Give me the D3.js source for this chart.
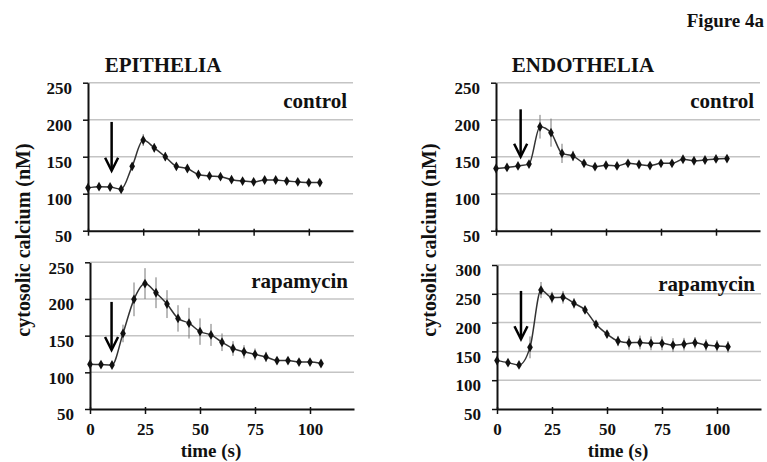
<!DOCTYPE html>
<html>
<head>
<meta charset="utf-8">
<script src="https://cdn.jsdelivr.net/npm/d3@7"></script>
<style>
  body { margin: 0; background: #fff; }
  svg text { font-family: "Liberation Serif", "Times New Roman", serif; font-weight: bold; fill: #111; }
</style>
</head>
<body>
<svg id="chart" width="767" height="462"></svg>
<script>
// time points (s)
var times = [0, 5, 10, 15, 20, 25, 30, 35, 40, 45, 50, 55, 60, 65, 70, 75, 80, 85, 90, 95, 100, 105];

// cytosolic calcium (nM), mean and error
var epiControl    = [108, 109.5, 109, 106, 137, 172.5, 162, 150, 137, 134, 126, 124, 123, 119, 117, 116, 118.5, 118.5, 117, 116, 115, 115];
var epiControlErr = [2, 2, 2, 2, 4, 8, 6, 6, 4, 4, 3, 3, 3, 3, 3, 3, 3, 3, 3, 2, 2, 2];
var epiRapa       = [111, 110.5, 110, 153, 199.5, 221, 208.5, 193, 173.5, 167, 155.5, 151, 141, 132.5, 128, 124.5, 121, 116, 116, 114, 114, 112];
var epiRapaErr    = [3, 3, 3, 12, 23, 21, 21, 19, 18, 21, 18, 15, 12, 10, 9, 8, 7, 5, 4, 3, 3, 3];
var endoControl    = [134, 135.5, 137.5, 140, 190.5, 182.5, 154.5, 151, 141, 136.5, 138.5, 137.5, 141, 139.5, 138, 141, 141, 146.5, 144.5, 145.5, 147, 147.5];
var endoControlErr = [4, 3, 3, 3, 16, 19, 13, 7, 4, 3, 3, 3, 3, 3, 3, 3, 3, 3, 3, 3, 3, 3];
var endoRapa       = [134, 130.5, 126.5, 157, 256.5, 243.5, 244, 233.5, 222, 197, 180, 168, 165, 165.5, 164, 164, 161, 162.5, 165, 161, 159.5, 158];
var endoRapaErr    = [4, 4, 4, 19, 14, 10, 11, 9, 6, 5, 6, 9, 12, 12, 12, 12, 12, 11, 10, 10, 10, 10];

// arrows (stimulus): time, top value, tip value
var arrowTime = [10.7, 9.8, 11.2, 10.9];
var arrowFrom = [197, 196, 214, 255];
var arrowTo   = [131, 130.5, 150, 171];

// tick labels
var xTicks = [0, 25, 50, 75, 100];
var yTicks250 = [50, 100, 150, 200, 250];
var yTicks300 = [50, 100, 150, 200, 250, 300];

var panelTitles = ["EPITHELIA", "ENDOTHELIA"];
var conditionLabels = ["control", "rapamycin"];

var svg = d3.select("#chart");

// panel layout
var panels = [
  { left: 88,  right: 353, top: 82.7,  bottom: 230.7, ticks: yTicks250, mean: epiControl,  err: epiControlErr,  label: 0, xlabels: false },
  { left: 90,  right: 354, top: 262.3, bottom: 409,   ticks: yTicks250, mean: epiRapa,     err: epiRapaErr,     label: 1, xlabels: true },
  { left: 496, right: 760, top: 82.7,  bottom: 230.7, ticks: yTicks250, mean: endoControl, err: endoControlErr, label: 0, xlabels: false },
  { left: 497, right: 761, top: 265,   bottom: 409,   ticks: yTicks300, mean: endoRapa,    err: endoRapaErr,    label: 1, xlabels: true }
];

panels.forEach(function(p, i) {
  var x = d3.scaleLinear().domain([0, 120]).range([p.left, p.right]);
  var y = d3.scaleLinear().domain([50, d3.max(p.ticks)]).range([p.bottom, p.top]);
  var g = svg.append("g");

  // gridlines
  g.selectAll(".grid")
    .data(p.ticks.slice(1))
    .enter().append("line")
      .attr("x1", p.left).attr("x2", p.right)
      .attr("y1", function(d) { return y(d); })
      .attr("y2", function(d) { return y(d); })
      .attr("stroke", "#c4c4c4")
      .attr("stroke-width", 1.5);

  // y axis
  var yAxis = g.append("g")
    .attr("transform", "translate(" + p.left + ",0)")
    .call(d3.axisLeft(y).tickValues(p.ticks).tickSize(5).tickSizeOuter(0).tickPadding(11));
  yAxis.select(".domain").attr("stroke", "#111").attr("stroke-width", 2);
  yAxis.selectAll(".tick line").attr("stroke", "#111").attr("stroke-width", 1.5);
  yAxis.selectAll("text").attr("font-size", 17).attr("dy", "0.75em").attr("y", -2);

  // x axis
  var xAxis = g.append("g")
    .attr("transform", "translate(0," + p.bottom + ")")
    .call(d3.axisBottom(x).tickValues(xTicks).tickSize(5).tickSizeOuter(0).tickPadding(9));
  xAxis.select(".domain").attr("stroke", "#111").attr("stroke-width", 2);
  xAxis.selectAll(".tick line").attr("stroke", "#111").attr("stroke-width", 1.5).attr("y1", -2);
  xAxis.selectAll("text").attr("font-size", 17);
  if (!p.xlabels) xAxis.selectAll("text").remove();

  // error bars
  g.selectAll(".err")
    .data(times)
    .enter().append("line")
      .attr("x1", function(d) { return x(d); })
      .attr("x2", function(d) { return x(d); })
      .attr("y1", function(d, j) { return y(p.mean[j] - p.err[j]); })
      .attr("y2", function(d, j) { return y(p.mean[j] + p.err[j]); })
      .attr("stroke", "#777")
      .attr("stroke-width", 1);

  // line
  var line = d3.line()
    .x(function(d) { return x(d); })
    .y(function(d, j) { return y(p.mean[j]); })
    .curve(d3.curveMonotoneX);
  g.append("path")
    .datum(times)
    .attr("d", line)
    .attr("fill", "none")
    .attr("stroke", "#333")
    .attr("stroke-width", 1.5);

  // markers
  g.selectAll(".pt")
    .data(times)
    .enter().append("path")
      .attr("d", d3.symbol().type(d3.symbolDiamond).size(28))
      .attr("transform", function(d, j) { return "translate(" + x(d) + "," + y(p.mean[j]) + ")"; })
      .attr("fill", "#111");

  // stimulus arrow
  var ax = x(arrowTime[i]), ay0 = y(arrowFrom[i]), ay1 = y(arrowTo[i]);
  g.append("line")
    .attr("x1", ax).attr("x2", ax).attr("y1", ay0).attr("y2", ay1 - 1)
    .attr("stroke", "#000").attr("stroke-width", 2.5);
  g.append("path")
    .attr("d", "M" + (ax - 6.5) + "," + (ay1 - 13) + "L" + ax + "," + ay1 + "L" + (ax + 6.5) + "," + (ay1 - 13))
    .attr("fill", "none").attr("stroke", "#000").attr("stroke-width", 2.5);

  // condition label
  g.append("text")
    .attr("x", p.right - 6)
    .attr("y", p.top + 25.5)
    .attr("text-anchor", "end")
    .attr("font-size", 21)
    .text(conditionLabels[p.label]);

  // x axis title
  if (p.xlabels) {
    g.append("text")
      .attr("x", x(55))
      .attr("y", 457)
      .attr("text-anchor", "middle")
      .attr("font-size", 19)
      .text("time (s)");
  }
});

// column titles
svg.append("text").attr("x", 163).attr("y", 72).attr("text-anchor", "middle")
  .attr("font-size", 21).text(panelTitles[0]);
svg.append("text").attr("x", 583).attr("y", 72).attr("text-anchor", "middle")
  .attr("font-size", 21).text(panelTitles[1]);

// y axis titles
[24, 430].forEach(function(cx) {
  svg.append("text")
    .attr("transform", "translate(" + (cx + 6) + ",240) rotate(-90)")
    .attr("text-anchor", "middle")
    .attr("font-size", 20)
    .text("cytosolic calcium (nM)");
});

svg.append("text").attr("x", 764).attr("y", 27).attr("text-anchor", "end")
  .attr("font-size", 19).text("Figure 4a");
</script>
</body>
</html>
